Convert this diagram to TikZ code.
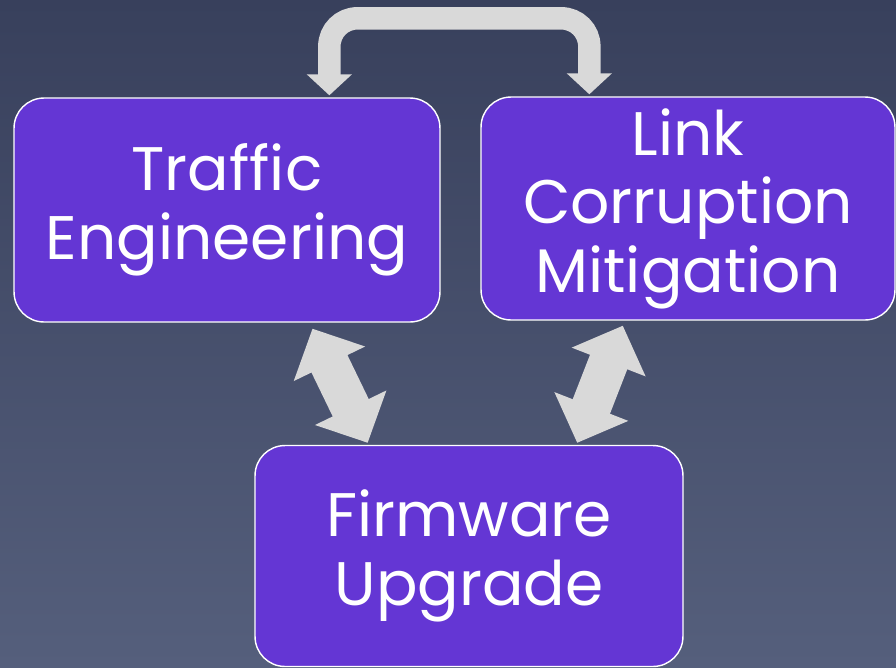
\documentclass[tikz,border=0pt]{standalone}
\usepackage{fontspec}
\setmainfont{Poppins}
\usetikzlibrary{arrows.meta,calc}

\definecolor{boxpurple}{HTML}{6436D4}
\definecolor{arrowgray}{HTML}{D9D9D9}
\definecolor{bgtop}{HTML}{38405C}
\definecolor{bgbottom}{HTML}{555F7C}

\tikzset{
  task/.style={draw=white, line width=0.8pt, fill=boxpurple, rounded corners=0.6cm,
    text=white, align=center, font=\fontsize{35}{39}\selectfont},
  bigarrow/.style={draw=arrowgray, line width=0.8cm,
    {Triangle[length=0.78cm,width=1.54cm]}-{Triangle[length=0.78cm,width=1.54cm]}},
  looparrow/.style={draw=arrowgray, line width=0.45cm, rounded corners=0.56cm,
    {Triangle[length=0.42cm,width=0.88cm]}-{Triangle[length=0.42cm,width=0.88cm]}}
}

\begin{document}
\begin{tikzpicture}[x=0.02cm,y=-0.02cm]
  \shade[top color=bgtop, bottom color=bgbottom] (0,0) rectangle (896,667);
  \useasboundingbox (0,0) rectangle (896,667);

  \node (traffic)  at (227,210)   [task, minimum width=8.52cm, minimum height=4.48cm] {Traffic\\Engineering};
  \node (link)     at (688,208.5) [task, minimum width=8.28cm, minimum height=4.46cm] {Link\\Corruption\\Mitigation};
  \node (firmware) at (469,556)   [task, minimum width=8.56cm, minimum height=4.42cm] {Firmware\\Upgrade};

  \coordinate (loopL) at ($(traffic.north west)+(316,-2)$);
  \coordinate (loopR) at ($(link.north west)+(109,-2)$);
  \draw[looparrow] (loopL) -- ++(0,-77) -| (loopR);

  \draw[bigarrow] ($(traffic.south west)!0.70!(traffic.south east)+(0,6)$)
    -- ($(firmware.north west)!0.264!(firmware.north east)+(0,-2)$);
  \draw[bigarrow] ($(link.south west)!0.343!(link.south east)+(0,5)$)
    -- ($(firmware.north west)!0.752!(firmware.north east)+(0,-2)$);
\end{tikzpicture}
\end{document}
